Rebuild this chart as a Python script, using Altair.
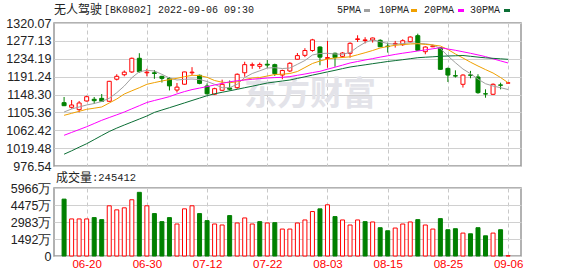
import altair as alt
import pandas as pd

# ---------------- data ----------------
dates = ["06-15","06-16","06-17","06-20","06-21","06-22","06-23","06-24","06-27","06-28",
         "06-29","06-30","07-01","07-04","07-05","07-06","07-07","07-08","07-11","07-12",
         "07-13","07-14","07-15","07-18","07-19","07-20","07-21","07-22","07-25","07-26",
         "07-27","07-28","07-29","08-01","08-02","08-03","08-04","08-05","08-08","08-09",
         "08-10","08-11","08-12","08-15","08-16","08-17","08-18","08-19","08-22","08-23",
         "08-24","08-25","08-26","08-29","08-30","08-31","09-01","09-02","09-05","09-06"]

opens = [1128.7,1117.6,1111.9,1132.7,1136.8,1139.0,1132.0,1185.0,1195.8,1202.5,
         1235.3,1200.5,1200.5,1192.0,1187.0,1159.0,1173.0,1200.5,1194.5,1168.7,
         1149.0,1158.4,1164.0,1164.7,1200.5,1218.6,1216.0,1221.0,1220.0,1195.0,
         1204.8,1233.0,1242.4,1254.0,1262.4,1235.0,1247.3,1240.0,1247.3,1280.5,
         1278.0,1279.2,1278.5,1264.5,1269.5,1268.0,1275.2,1289.6,1251.1,1263.0,
         1260.8,1211.0,1193.5,1172.8,1195.4,1190.4,1150.0,1148.8,1171.3,1175.9]
highs = [1142.3,1135.1,1132.7,1145.4,1142.3,1149.5,1181.0,1197.0,1206.0,1237.0,
         1247.5,1210.0,1207.0,1193.0,1190.0,1176.0,1203.0,1214.0,1196.0,1175.0,
         1164.5,1184.0,1182.0,1199.0,1227.0,1225.0,1225.0,1231.0,1222.4,1208.0,
         1226.0,1248.0,1259.6,1282.0,1264.0,1276.8,1249.0,1250.0,1273.7,1290.6,
         1286.0,1285.0,1281.0,1273.0,1277.0,1281.0,1288.0,1294.4,1264.0,1268.0,
         1262.4,1213.0,1206.4,1196.9,1205.0,1197.0,1160.8,1175.0,1176.7,1176.5]
lows = [1120.5,1114.2,1105.5,1131.5,1125.5,1131.0,1131.0,1182.0,1192.0,1200.0,
        1201.0,1192.0,1186.0,1177.0,1158.0,1153.0,1172.0,1195.0,1173.0,1148.0,
        1147.0,1156.7,1158.0,1162.0,1191.0,1210.0,1210.0,1212.0,1193.0,1185.0,
        1202.0,1232.0,1238.0,1251.0,1218.5,1212.7,1215.0,1237.0,1236.7,1274.5,
        1271.0,1273.0,1262.0,1249.0,1261.0,1265.0,1273.0,1253.0,1244.9,1262.0,
        1208.0,1178.4,1189.0,1165.0,1187.3,1150.0,1140.6,1147.0,1160.8,1175.5]
closes = [1121.4,1123.1,1127.9,1143.0,1133.5,1132.0,1180.0,1192.0,1202.0,1235.3,
          1203.0,1202.0,1198.8,1187.0,1169.0,1166.0,1202.5,1202.0,1175.0,1150.0,
          1162.3,1172.8,1161.0,1196.9,1220.0,1219.8,1220.5,1219.0,1198.3,1206.0,
          1223.3,1241.7,1254.0,1279.5,1238.0,1237.0,1237.0,1248.0,1271.3,1282.0,
          1279.5,1284.0,1263.0,1263.5,1271.0,1277.5,1286.4,1254.5,1262.4,1265.0,
          1208.8,1195.0,1192.6,1195.0,1194.5,1152.7,1149.5,1172.8,1170.5,1176.0]

ma5 = [1106.3,1113.5,1118.3,1123.1,1126.7,1131.5,1139.2,1152.6,1168.7,1188.6,
       1203.1,1206.4,1204.8,1196.8,1187.9,1183.1,1184.8,1185.5,1184.3,1179.5,
       1172.8,1164.6,1164.6,1172.8,1189.1,1198.7,1205.2,1211.9,1212.7,1210.7,
       1211.9,1220.8,1230.0,1243.2,1246.8,1247.3,1245.6,1244.9,1249.2,1262.4,
       1273.2,1279.7,1275.1,1270.8,1268.9,1270.8,1272.7,1270.8,1270.3,1267.2,
       1258.8,1240.8,1224.7,1209.5,1198.3,1185.5,1174.2,1168.7,1164.6,1160.3]
ma10 = [1098.3,1103.1,1107.9,1112.7,1115.4,1118.3,1127.9,1137.5,1149.5,1157.2,
        1164.6,1172.8,1176.9,1180.7,1184.1,1187.2,1191.0,1194.4,1193.9,1189.6,
        1181.9,1177.8,1176.6,1179.0,1184.1,1187.9,1189.1,1192.7,1196.3,1197.1,
        1198.7,1203.5,1213.1,1222.8,1228.8,1233.6,1236.0,1237.2,1238.9,1243.7,
        1248.7,1254.0,1260.0,1263.6,1266.5,1268.2,1269.6,1270.3,1268.6,1267.2,
        1264.8,1256.4,1245.6,1236.0,1225.9,1216.8,1208.1,1199.9,1189.1,1176.6]
ma20 = [1050.3,1057.2,1064.0,1070.9,1078.6,1086.3,1093.0,1099.5,1106.2,1113.9,
        1121.4,1129.1,1133.9,1138.4,1143.2,1149.7,1155.3,1160.1,1163.7,1167.3,
        1171.1,1175.0,1178.8,1181.4,1183.1,1184.8,1186.5,1187.9,1188.9,1189.6,
        1191.3,1194.4,1197.5,1200.9,1204.0,1209.1,1213.9,1218.9,1224.0,1227.6,
        1231.2,1234.5,1238.1,1241.3,1244.6,1247.5,1250.1,1252.8,1255.4,1258.1,
        1260.7,1257.6,1254.5,1250.9,1247.3,1243.4,1239.3,1234.0,1229.0,1224.0]
ma30 = [1004.9,1013.0,1021.7,1030.1,1039.9,1049.8,1059.4,1067.6,1075.0,1082.2,
        1089.4,1096.6,1105.3,1111.0,1116.6,1122.3,1128.1,1133.9,1139.6,1145.4,
        1150.0,1153.6,1157.2,1160.8,1164.6,1168.2,1172.1,1175.9,1178.3,1180.7,
        1183.1,1187.0,1190.8,1194.9,1198.7,1202.6,1206.4,1210.5,1214.3,1217.0,
        1219.6,1222.3,1224.9,1227.6,1229.7,1231.9,1234.3,1236.7,1237.9,1238.9,
        1240.1,1240.8,1241.3,1242.0,1240.1,1238.1,1236.4,1235.2,1234.0,1232.8]

# volume in 万
vols = [4991,3253,3253,3253,3369,3191,4404,4049,4226,4935,
        5585,4404,3723,3014,3369,2808,4137,4404,3723,3103,
        2808,2720,3546,2897,3339,2808,3014,2897,2925,2364,
        2364,2896,3162,3901,4137,4492,3457,3162,2719,3162,
        3014,2985,2482,2216,2453,2807,2985,3191,2719,2364,
        3280,2305,2394,2010,1950,2482,1773,2010,2305,24.5]
vol_dir = ["down","up","up","up","down","down","up","up","up","up",
           "down","up","down","down","down","up","up","up","down","down",
           "up","up","down","up","up","up","down","up","down","up",
           "up","up","up","up","down","up","down","up","up","up",
           "down","up","down","down","up","up","up","down","up","up",
           "down","down","down","up","down","down","down","up","down","up"]

ma_names = ["5PMA", "10PMA", "20PMA", "30PMA"]
ma_colors = ["#a0a0a0", "#f0a000", "#ff00ff", "#0b6e35"]

price_ticks = [976.54, 1019.48, 1062.42, 1105.36, 1148.30, 1191.24, 1234.19, 1277.13, 1320.07]
vol_ticks = [0, 1491.5, 2983, 4474.5, 5966]
vol_tick_labels = ["0", "1492万", "2983万", "4475万", "5966万"]
date_labels = ["06-20", "06-30", "07-12", "07-22", "08-03", "08-15", "08-25", "09-06"]

title_cn = "无人驾驶"
title_rest = "[BK0802] 2022-09-06 09:30"
vol_title_cn = "成交量"
vol_title_rest = ":245412"
watermark = "东方财富"

# ---------------- tables ----------------
df = pd.DataFrame({"i": list(range(len(dates))), "date": dates,
                   "open": opens, "high": highs, "low": lows, "close": closes,
                   "vol": vols, "vdir": vol_dir})
df["dir"] = ["up" if c >= o else "down" for o, c in zip(opens, closes)]

ma_rows = []
for name, series in zip(ma_names, [ma5, ma10, ma20, ma30]):
    for k, v in enumerate(series):
        ma_rows.append({"i": k, "ma": name, "v": v})
ma_df = pd.DataFrame(ma_rows)

RED = "#ff0000"
GREEN = "#008000"
W = 467
HP = 143
HV = 68

xscale = alt.Scale(domain=[-0.676, 60.05], nice=False, zero=False)
tick_idx = [dates.index(d) for d in date_labels]
dates_js = "[" + ",".join("'%s'" % d for d in dates) + "]"
vt_js = "[" + ",".join(str(v) for v in vol_ticks) + "]"
vl_js = "[" + ",".join("'%s'" % s for s in vol_tick_labels) + "]"

stroke_scale = alt.Scale(domain=["up", "down"], range=[RED, GREEN])
fill_scale = alt.Scale(domain=["up", "down"], range=["#ffffff", GREEN])

pscale = alt.Scale(domain=[price_ticks[0], price_ticks[-1]], nice=False, zero=False)

x_axis_price = alt.Axis(values=tick_idx, labels=False, ticks=False, domain=False,
                        grid=True, gridColor="#c8c8c8", gridDash=[4, 3], gridWidth=1,
                        title=None)
y_axis_price = alt.Axis(values=price_ticks, format=".2f", ticks=False, domain=False,
                        grid=True, gridColor="#d0d0d0", gridWidth=1,
                        labelFont="Liberation Sans", labelFontSize=12.5,
                        labelColor="#222222", labelPadding=3,
                        labelOverlap=False, labelBound=False, labelFlush=False,
                        title=None)

def xp():
    return alt.X("i:Q", scale=xscale, axis=x_axis_price, title=None)

def yp(field):
    return alt.Y(field, scale=pscale, axis=y_axis_price, title=None)

def one(text):
    return alt.Chart(pd.DataFrame({"t": [text]}))

wm = one(watermark).mark_text(font="Noto Sans CJK SC", fontSize=33, fontWeight="bold",
                              color="#e3e3e9", align="center", baseline="middle").encode(
    text="t:N", x=alt.value(256), y=alt.value(72))

wick = alt.Chart(df).mark_rule(strokeWidth=1).encode(
    x=xp(), y=yp("low:Q"), y2="high:Q",
    stroke=alt.Stroke("dir:N", scale=stroke_scale, legend=None))

body = alt.Chart(df).mark_bar(size=4, strokeWidth=1).encode(
    x=xp(), y=yp("open:Q"), y2="close:Q",
    fill=alt.Fill("dir:N", scale=fill_scale, legend=None),
    stroke=alt.Stroke("dir:N", scale=stroke_scale, legend=None))

lines = alt.Chart(ma_df).mark_line(strokeWidth=1).encode(
    x=xp(), y=yp("v:Q"),
    color=alt.Color("ma:N", scale=alt.Scale(domain=ma_names, range=ma_colors), legend=None),
    detail="ma:N")

t1 = one(title_cn).mark_text(font="Noto Sans CJK SC", fontSize=12, color="#222222",
                             align="left", baseline="middle").encode(
    text="t:N", x=alt.value(0), y=alt.value(-13))
t2 = one(title_rest).mark_text(font="Liberation Mono", fontSize=10, color="#222222",
                               align="left", baseline="middle").encode(
    text="t:N", x=alt.value(50), y=alt.value(-13))

legend_layers = []
leg_text_x = [283, 325, 370, 416]
leg_dash_x = [310, 357, 404, 450]
for name, col, tx, dx in zip(ma_names, ma_colors, leg_text_x, leg_dash_x):
    legend_layers.append(one(name).mark_text(font="Liberation Mono", fontSize=10,
                                             color="#222222", align="left",
                                             baseline="middle").encode(
        text="t:N", x=alt.value(tx), y=alt.value(-13)))
    legend_layers.append(one(name).mark_rule(strokeWidth=3, color=col).encode(
        x=alt.value(dx), x2=alt.value(dx + 6), y=alt.value(-12.5)))

price = alt.layer(wm, wick, body, lines, t1, t2, *legend_layers).properties(width=W, height=HP)

# volume panel
x_vol = alt.X("i:Q", scale=xscale, title=None,
              axis=alt.Axis(values=tick_idx, labelExpr=dates_js + "[datum.value]",
                            ticks=False, domain=False, grid=True, gridColor="#c8c8c8",
                            gridDash=[4, 3], gridWidth=1, labelColor=RED,
                            labelFont="Liberation Sans", labelFontSize=11.5,
                            labelPadding=2, labelOverlap=False, labelBound=False,
                            labelFlush=False, title=None))
y_vol = alt.Y("vol:Q", scale=alt.Scale(domain=[0, vol_ticks[-1]], nice=False, zero=True),
              title=None,
              axis=alt.Axis(values=vol_ticks,
                            labelExpr=vl_js + "[indexof(" + vt_js + ", datum.value)]",
                            ticks=False, domain=False, grid=True, gridColor="#d0d0d0",
                            labelFont="Liberation Sans", labelFontSize=12.5,
                            labelColor="#222222", labelPadding=3, labelOverlap=False,
                            labelBound=False, labelFlush=False, title=None))

vbars = alt.Chart(df).mark_bar(size=4, strokeWidth=1).encode(
    x=x_vol, y=y_vol,
    fill=alt.Fill("vdir:N", scale=fill_scale, legend=None),
    stroke=alt.Stroke("vdir:N", scale=stroke_scale, legend=None))

v1 = one(vol_title_cn).mark_text(font="Noto Sans CJK SC", fontSize=12, color="#222222",
                                 align="left", baseline="middle").encode(
    text="t:N", x=alt.value(2), y=alt.value(-10.5))
v2 = one(vol_title_rest).mark_text(font="Liberation Mono", fontSize=10.5, color="#222222",
                                   align="left", baseline="middle").encode(
    text="t:N", x=alt.value(38), y=alt.value(-10.5))

volume = alt.layer(vbars, v1, v2).properties(width=W, height=HV)

chart = alt.vconcat(price, volume, spacing=22, bounds="flush").properties(
    autosize=alt.AutoSizeParams(type="pad"),
    padding={"left": 5, "top": 3, "right": 4, "bottom": 2},
    background="#ffffff",
).configure_view(stroke="#999999", strokeWidth=1.5).resolve_scale(
    x="shared"
)

chart.save("out.html", embed_options={"renderer": "svg", "actions": False})
